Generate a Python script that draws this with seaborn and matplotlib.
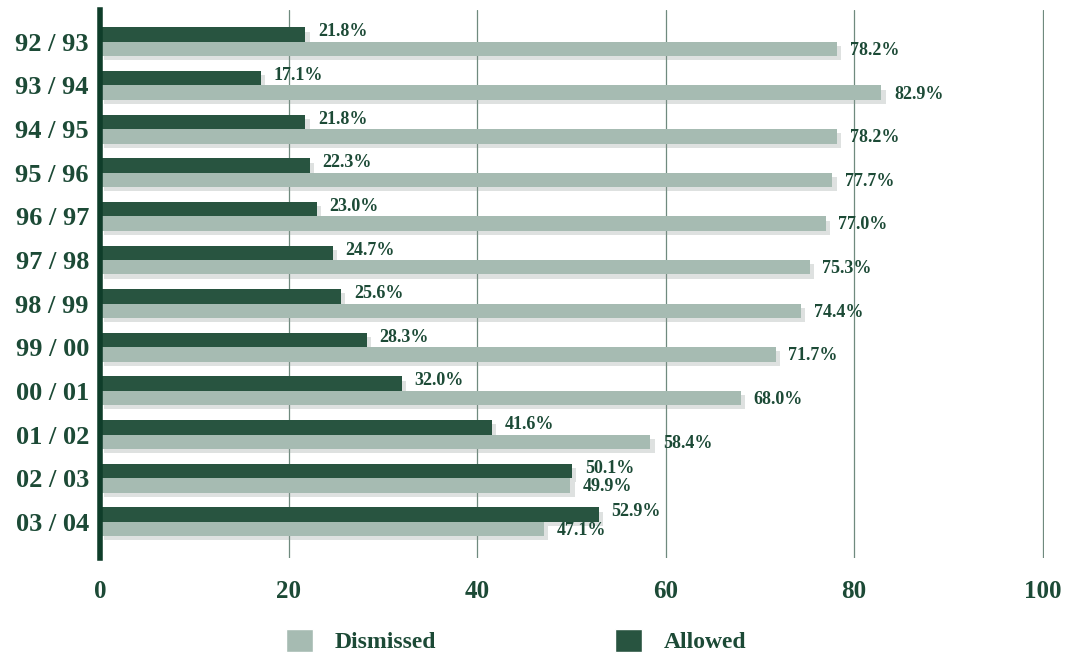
import matplotlib
matplotlib.use("Agg")
import matplotlib.pyplot as plt
import matplotlib.patheffects as pe
from matplotlib.patches import Patch
import seaborn as sns
import pandas as pd

# Appeal outcomes per year, in percent
years = ["92 / 93", "93 / 94", "94 / 95", "95 / 96", "96 / 97", "97 / 98",
         "98 / 99", "99 / 00", "00 / 01", "01 / 02", "02 / 03", "03 / 04"]
allowed = [21.8, 17.1, 21.8, 22.3, 23.0, 24.7, 25.6, 28.3, 32.0, 41.6, 50.1, 52.9]
dismissed = [78.2, 82.9, 78.2, 77.7, 77.0, 75.3, 74.4, 71.7, 68.0, 58.4, 49.9, 47.1]
x_ticks = [0, 20, 40, 60, 80, 100]

DARK = "#285440"
LIGHT = "#a6bbb2"
TEXT = "#1c4a36"
SPINE = "#0f3d2a"
GRID = "#6f8a7e"

sns.set_theme(style="white")
plt.rcParams["font.family"] = ["Liberation Serif", "DejaVu Serif"]
plt.rcParams["font.weight"] = "bold"

df = pd.DataFrame({
    "year": years * 2,
    "pct": allowed + dismissed,
    "outcome": ["Allowed"] * len(years) + ["Dismissed"] * len(years),
})

fig = plt.figure(figsize=(10.68, 6.58), dpi=100)
ax = fig.add_axes([100 / 1068, 1 - 558 / 658, 944 / 1068, 548 / 658])

sns.barplot(data=df, y="year", x="pct", hue="outcome", order=years,
            hue_order=["Allowed", "Dismissed"],
            palette={"Allowed": DARK, "Dismissed": LIGHT},
            orient="h", width=0.66, gap=0, dodge=True, legend=False,
            saturation=1, ax=ax, zorder=3)

shadow = [pe.SimplePatchShadow(offset=(3, -3), shadow_rgbFace="#8a9690", alpha=0.28),
          pe.Normal()]
for bar in ax.patches:
    bar.set_path_effects(shadow)
    bar.set_edgecolor("none")

for cont, dy in zip(ax.containers, [2, -1]):
    for bar, v in zip(cont, cont.datavalues):
        ax.annotate(f"{v:.1f}%", (bar.get_width(), bar.get_y() + bar.get_height() / 2),
                    xytext=(9, dy), textcoords="offset points",
                    ha="left", va="center", fontsize=13, fontweight="bold",
                    color=TEXT, zorder=5)

ax.set_xlim(0, 100.15)
ax.set_ylim(11.83, -0.73)
ax.set_xticks(x_ticks)
ax.set_xticklabels([str(t) for t in x_ticks])
ax.set_xlabel("")
ax.set_ylabel("")
ax.grid(axis="x", color=GRID, linewidth=0.9, zorder=0)
ax.grid(axis="y", visible=False)
for s in ["top", "right", "bottom"]:
    ax.spines[s].set_visible(False)
ax.spines["left"].set_color(SPINE)
ax.spines["left"].set_linewidth(4)
ax.spines["left"].set_zorder(6)
ax.tick_params(axis="x", length=0, pad=16, labelsize=18, labelcolor=TEXT)
ax.tick_params(axis="y", length=0, pad=8, labelsize=19, labelcolor=TEXT)
for lbl in ax.get_xticklabels() + ax.get_yticklabels():
    lbl.set_fontweight("bold")

handles = [Patch(facecolor=LIGHT, label="Dismissed"),
           Patch(facecolor=DARK, label="Allowed")]
fig.legend(handles=handles, loc="center", bbox_to_anchor=(516 / 1068, 1 - 641 / 658),
           ncol=2, frameon=False, handlelength=1.15, handleheight=1.15,
           columnspacing=7.6, handletextpad=0.9,
           prop={"size": 17, "weight": "bold"}, labelcolor=TEXT)

fig.savefig("out.png", dpi=100)
